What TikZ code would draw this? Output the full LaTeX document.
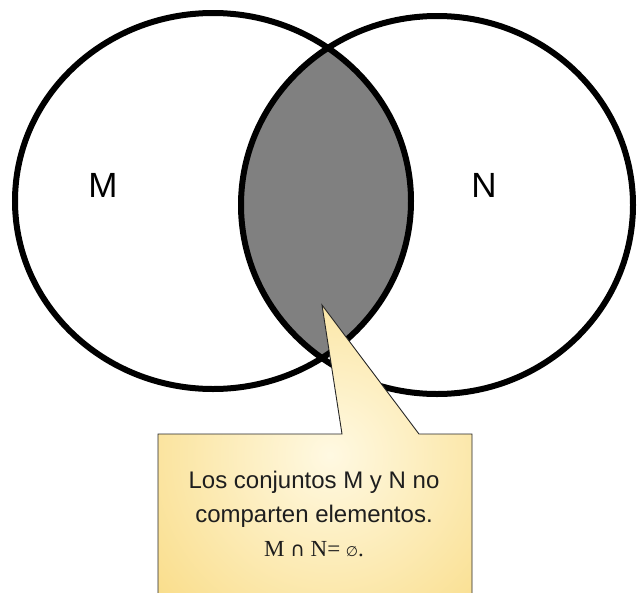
\documentclass[tikz,border=0pt]{standalone}
\usepackage{fontspec}
\setmainfont{Liberation Sans}
\newfontfamily\serifmath{Liberation Serif}
\newfontfamily\symbolfont{DejaVu Sans}
\usetikzlibrary{positioning}
\definecolor{lensgray}{RGB}{128,128,128}
\definecolor{notelight}{RGB}{255,249,226}
\definecolor{notegold}{RGB}{246,206,90}
\definecolor{notetextcol}{RGB}{30,30,30}
\tikzset{
    setline/.style={draw=black, line width=6pt},
    lens/.style={fill=lensgray},
    setlabel/.style={font=\fontsize{35}{35}\selectfont, inner sep=0pt},
    bubble/.style={
        draw=black!85,
        line width=0.9pt,
        path picture={
            \shade[inner color=notelight, outer color=notegold]
                (330,455) circle [radius=350];
        }
    },
    notetext/.style={
        align=center,
        text=notetextcol,
        font=\fontsize{24}{34}\selectfont
    }
}

\begin{document}
\begin{tikzpicture}[x=1pt, y=-1pt]

\useasboundingbox (0,0) rectangle (637,592);

% the two sets
\coordinate (m) at (213,201);
\coordinate (n) at (437,205);

\begin{scope}
    \clip (m) ellipse [x radius=198, y radius=188];
    \fill[lens] (n) ellipse [x radius=196, y radius=189];
\end{scope}

\draw[setline] (m) ellipse [x radius=198, y radius=188];
\draw[setline] (n) ellipse [x radius=196, y radius=189];

\node[setlabel] (mlabel) at (103,185) {M};
\node[setlabel] (nlabel) at (484,185) {N};

% callout
\coordinate (tip) at (322,305);
\coordinate (baseL) at (342,434);
\coordinate (baseR) at (419,434);

\draw[bubble]
    (158,615) -- (158,434) -- (baseL) -- (tip) -- (baseR)
    -- (472,434) -- (472,615) -- cycle;

\node[notetext] (note) at (314,514)
    {Los conjuntos M y N no\\
     comparten elementos.\\
     {\serifmath\fontsize{23}{34}\selectfont M {\symbolfont\fontsize{20}{34}\selectfont ∩} N= {\symbolfont\fontsize{14}{34}\selectfont ∅}.}};

\end{tikzpicture}
\end{document}
